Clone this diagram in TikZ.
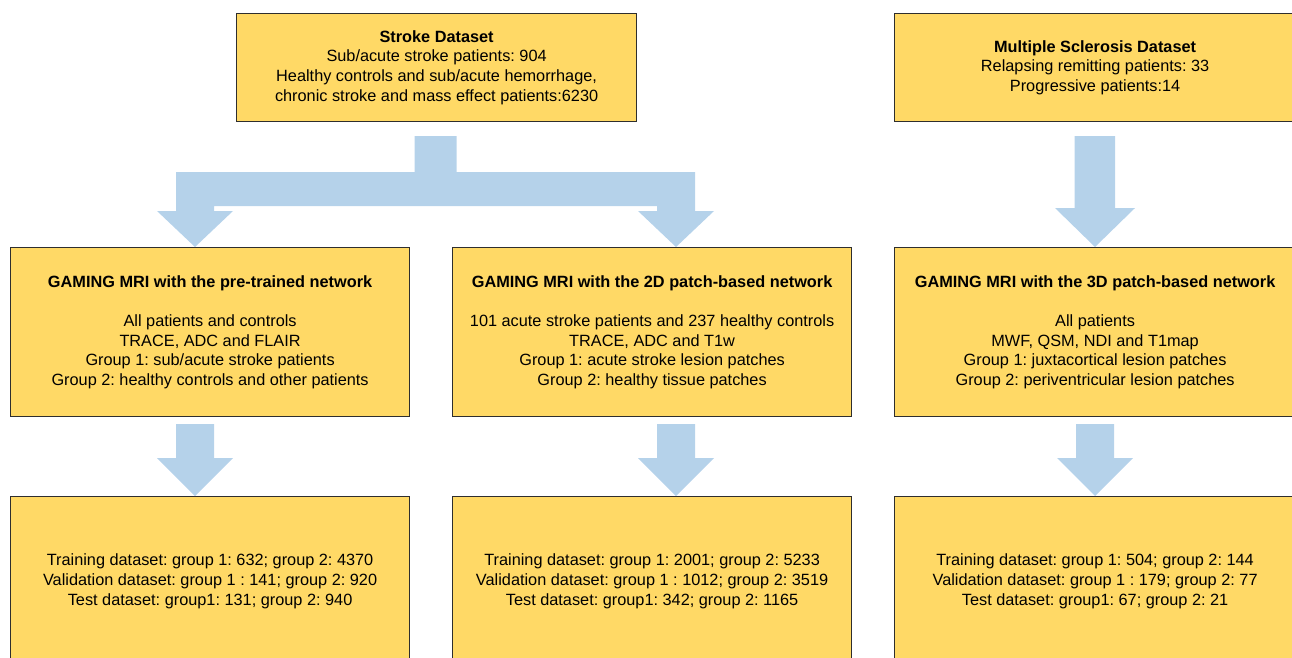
\documentclass[tikz,border=0pt]{standalone}
\usepackage{fontspec}
\setmainfont{Liberation Sans}
\usetikzlibrary{calc}
\definecolor{boxfill}{HTML}{FFD966}
\definecolor{arrowblue}{HTML}{B5D2EA}
\definecolor{boxline}{HTML}{2E2E2E}
\frenchspacing
\begin{document}
\begin{tikzpicture}[x=1pt,y=-1pt,
  box/.style={draw=boxline, line width=1.2pt, fill=boxfill, anchor=north west,
    align=center, inner sep=0pt, font=\fontsize{16.3}{19.7}\selectfont\frenchspacing},
  blockarrow/.style={fill=arrowblue, draw=none}]
\useasboundingbox (0,0) rectangle (1292,657);
% boxes
\node[box, minimum width=400pt, minimum height=108pt] (stroke) at (236,13)
  {\textbf{Stroke Dataset}\\Sub/acute stroke patients: 904\\Healthy controls and sub/acute hemorrhage,\\chronic stroke and mass effect patients:6230};
\node[box, minimum width=401pt, minimum height=108pt] (ms) at (894,13)
  {\textbf{Multiple Sclerosis Dataset}\\Relapsing remitting patients: 33\\Progressive patients:14};
\node[box, minimum width=399pt, minimum height=169pt] (pre) at (10,247)
  {\textbf{GAMING MRI with the pre-trained network}\\[19.7pt]All patients and controls\\TRACE, ADC and FLAIR\\Group 1: sub/acute stroke patients\\Group 2: healthy controls and other patients};
\node[box, minimum width=399pt, minimum height=169pt] (p2d) at (452,247)
  {\textbf{GAMING MRI with the 2D patch-based network}\\[19.7pt]101 acute stroke patients and 237 healthy controls\\TRACE, ADC and T1w\\Group 1: acute stroke lesion patches\\Group 2: healthy tissue patches};
\node[box, minimum width=401pt, minimum height=169pt] (p3d) at (894,247)
  {\textbf{GAMING MRI with the 3D patch-based network}\\[19.7pt]All patients\\MWF, QSM, NDI and T1map\\Group 1: juxtacortical lesion patches\\Group 2: periventricular lesion patches};
\node[box, minimum width=399pt, minimum height=169pt] (r1) at (10,496)
  {Training dataset: group 1: 632; group 2: 4370\\Validation dataset: group 1 : 141; group 2: 920\\Test dataset: group1: 131; group 2: 940};
\node[box, minimum width=399pt, minimum height=169pt] (r2) at (452,496)
  {Training dataset: group 1: 2001; group 2: 5233\\Validation dataset: group 1 : 1012; group 2: 3519\\Test dataset: group1: 342; group 2: 1165};
\node[box, minimum width=401pt, minimum height=169pt] (r3) at (894,496)
  {Training dataset: group 1: 504; group 2: 144\\Validation dataset: group 1 : 179; group 2: 77\\Test dataset: group1: 67; group 2: 21};
% arrow tips on target boxes
\coordinate (t1) at (195,0 |- pre.north);
\coordinate (t2) at (676,0 |- p2d.north);
\coordinate (t3) at (1095,0 |- p3d.north);
\coordinate (t4) at (195,0 |- r1.north);
\coordinate (t5) at (676,0 |- r2.north);
\coordinate (t6) at (1095,0 |- r3.north);
% split arrow from Stroke dataset
\fill[blockarrow] (414.5,136) -- (456.7,136) -- (456.7,172) -- (695,172) -- (695,211)
  -- (714,211) -- (t2) -- (638,211) -- (657,211) -- (657,206) -- (214,206) -- (214,211)
  -- (233,211) -- (t1) -- (157,211) -- (176,211) -- (176,172) -- (414.5,172) -- cycle;
% MS arrow
\fill[blockarrow] (1074.5,136) -- (1115,136) -- (1115,208) -- (1135,208) -- (t3)
  -- (1055,208) -- (1074.5,208) -- cycle;
% lower arrows
\fill[blockarrow] (176,424) -- (214,424) -- (214,458) -- (233,458) -- (t4)
  -- (157,458) -- (176,458) -- cycle;
\fill[blockarrow] (657,424) -- (695,424) -- (695,458) -- (714,458) -- (t5)
  -- (638,458) -- (657,458) -- cycle;
\fill[blockarrow] (1076,424) -- (1114,424) -- (1114,458) -- (1133,458) -- (t6)
  -- (1057,458) -- (1076,458) -- cycle;
\end{tikzpicture}
\end{document}
